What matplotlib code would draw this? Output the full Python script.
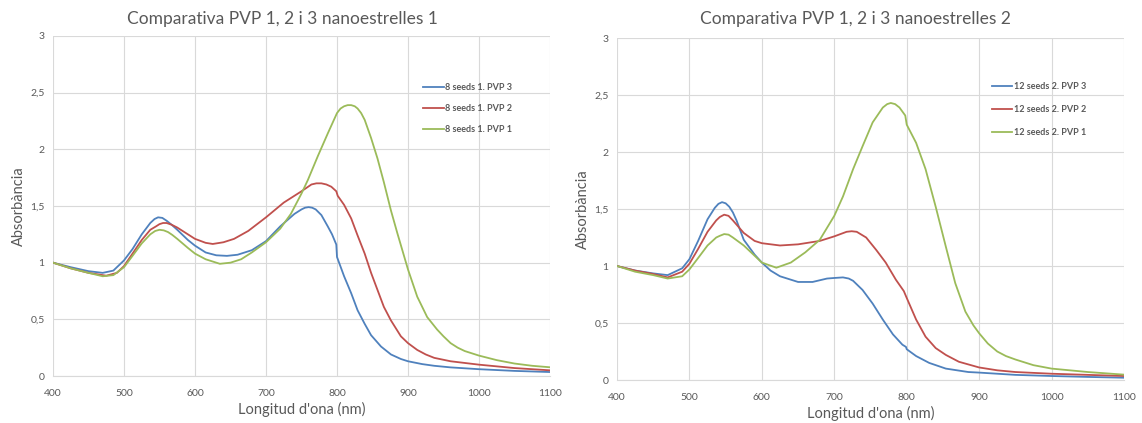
import matplotlib
matplotlib.use("Agg")
import matplotlib.pyplot as plt

plt.rcParams['font.family'] = ['Lato', 'DejaVu Sans']

# --- chart 1: 8 seeds ---
wl_1_pvp3 = [400, 425, 450, 470, 485, 500, 512, 525, 537, 543, 548, 554, 560, 567, 575, 590, 600, 615, 630, 645,
             660, 680, 700, 720, 740, 745, 750, 755, 760, 765, 770, 778, 787, 793, 799, 800, 810, 820, 829, 839,
             848, 862, 876, 890, 900, 920, 937, 960, 1000, 1050, 1100]
abs_1_pvp3 = [1.00, 0.96, 0.925, 0.91, 0.93, 1.02, 1.12, 1.25, 1.35, 1.385, 1.40, 1.395, 1.37, 1.335, 1.29, 1.20, 1.15, 1.09, 1.065, 1.06,
              1.07, 1.11, 1.19, 1.32, 1.43, 1.45, 1.47, 1.485, 1.49, 1.485, 1.47, 1.42, 1.32, 1.25, 1.16, 1.05, 0.88, 0.73, 0.58, 0.46,
              0.36, 0.26, 0.19, 0.15, 0.13, 0.105, 0.09, 0.076, 0.06, 0.045, 0.035]

wl_1_pvp2 = [400, 425, 450, 475, 490, 500, 512, 525, 537, 545, 550, 555, 560, 567, 575, 590, 600, 615, 625, 640,
             655, 675, 700, 725, 750, 764, 771, 778, 785, 792, 799, 801, 810, 820, 829, 839, 848, 857, 866, 876,
             890, 900, 913, 925, 937, 960, 980, 1000, 1050, 1100]
abs_1_pvp2 = [1.00, 0.95, 0.91, 0.885, 0.91, 0.97, 1.08, 1.20, 1.29, 1.32, 1.34, 1.35, 1.35, 1.335, 1.31, 1.25, 1.21, 1.175, 1.165, 1.18,
              1.21, 1.28, 1.40, 1.53, 1.63, 1.69, 1.70, 1.70, 1.69, 1.67, 1.63, 1.59, 1.51, 1.39, 1.24, 1.08, 0.91, 0.76, 0.61, 0.49,
              0.35, 0.29, 0.23, 0.19, 0.16, 0.13, 0.115, 0.10, 0.07, 0.05]

wl_1_pvp1 = [400, 425, 450, 470, 485, 500, 512, 525, 537, 544, 550, 556, 562, 568, 575, 590, 600, 615, 635, 650,
             665, 680, 700, 720, 735, 750, 759, 773, 787, 800, 805, 810, 815, 820, 825, 829, 834, 839, 848, 857,
             866, 876, 885, 900, 913, 927, 941, 950, 960, 970, 980, 1000, 1025, 1050, 1075, 1100]
abs_1_pvp1 = [1.00, 0.95, 0.91, 0.88, 0.89, 0.96, 1.06, 1.17, 1.25, 1.28, 1.29, 1.285, 1.27, 1.245, 1.21, 1.13, 1.08, 1.03, 0.99, 1.00,
              1.03, 1.09, 1.18, 1.30, 1.43, 1.61, 1.73, 1.94, 2.14, 2.32, 2.36, 2.38, 2.39, 2.39, 2.38, 2.36, 2.32, 2.26, 2.10, 1.92,
              1.71, 1.46, 1.26, 0.94, 0.70, 0.52, 0.41, 0.35, 0.29, 0.25, 0.22, 0.18, 0.14, 0.11, 0.09, 0.077]

# --- chart 2: 12 seeds ---
wl_2_pvp3 = [400, 425, 450, 470, 490, 500, 512, 525, 535, 540, 545, 550, 555, 560, 565, 575, 590, 600, 612, 625,
             650, 670, 690, 700, 712, 720, 726, 739, 753, 767, 781, 794, 799, 800, 813, 831, 854, 885, 900, 950,
             1000, 1050, 1100]
abs_2_pvp3 = [1.00, 0.96, 0.935, 0.92, 0.98, 1.06, 1.22, 1.41, 1.51, 1.545, 1.56, 1.55, 1.52, 1.47, 1.40, 1.23, 1.10, 1.03, 0.96, 0.91,
              0.86, 0.86, 0.89, 0.895, 0.90, 0.89, 0.87, 0.79, 0.67, 0.53, 0.40, 0.31, 0.29, 0.27, 0.21, 0.15, 0.10, 0.07, 0.065, 0.045,
              0.035, 0.027, 0.02]

wl_2_pvp2 = [400, 425, 450, 470, 490, 500, 512, 525, 537, 542, 548, 554, 560, 575, 590, 600, 625, 650, 680, 700,
             717, 724, 731, 744, 758, 771, 785, 796, 800, 813, 826, 840, 854, 872, 900, 925, 950, 1000, 1050, 1100]
abs_2_pvp2 = [1.00, 0.96, 0.93, 0.90, 0.95, 1.02, 1.15, 1.30, 1.40, 1.43, 1.45, 1.44, 1.40, 1.29, 1.22, 1.20, 1.18, 1.19, 1.22, 1.26,
              1.30, 1.305, 1.30, 1.25, 1.14, 1.03, 0.88, 0.78, 0.72, 0.53, 0.38, 0.28, 0.22, 0.16, 0.11, 0.085, 0.07, 0.055, 0.045, 0.035]

wl_2_pvp1 = [400, 425, 450, 470, 490, 500, 512, 525, 537, 542, 548, 554, 560, 575, 600, 620, 640, 660, 680, 700,
             712, 726, 739, 753, 767, 773, 778, 784, 790, 798, 800, 813, 826, 840, 854, 867, 881, 892, 900, 912,
             925, 937, 950, 975, 1000, 1050, 1100]
abs_2_pvp1 = [1.00, 0.95, 0.92, 0.89, 0.91, 0.97, 1.07, 1.18, 1.25, 1.265, 1.28, 1.275, 1.25, 1.18, 1.03, 0.985, 1.03, 1.12, 1.23, 1.44,
              1.61, 1.85, 2.05, 2.26, 2.39, 2.42, 2.43, 2.42, 2.39, 2.32, 2.24, 2.08, 1.85, 1.52, 1.17, 0.85, 0.60, 0.48, 0.41, 0.32,
              0.25, 0.21, 0.18, 0.13, 0.10, 0.07, 0.047]

x_ticks = [400, 500, 600, 700, 800, 900, 1000, 1100]
y_ticks = [0, 0.5, 1, 1.5, 2, 2.5, 3]
y_tick_labels = ["0", "0,5", "1", "1,5", "2", "2,5", "3"]

blue = "#4F81BD"
red = "#C0504D"
green = "#9BBB59"
grey_txt = "#595959"
grid_col = "#D9D9D9"

fig = plt.figure(figsize=(11.42, 4.23), dpi=100)
ax1 = fig.add_axes([53 / 1142, 1 - 376 / 423, 497 / 1142, 340 / 423])
ax2 = fig.add_axes([617 / 1142, 1 - 380 / 423, 507 / 1142, 342 / 423])


def style_axes(ax):
    ax.set_xlim(400, 1100)
    ax.set_ylim(0, 3)
    ax.set_xticks(x_ticks)
    ax.set_yticks(y_ticks)
    ax.set_yticklabels(y_tick_labels)
    ax.grid(True, color=grid_col, linewidth=0.8)
    ax.set_axisbelow(True)
    for s in ax.spines.values():
        s.set_visible(False)
    ax.spines['bottom'].set_visible(True)
    ax.spines['bottom'].set_color(grid_col)
    ax.tick_params(length=0, labelsize=7.5, labelcolor=grey_txt)
    ax.tick_params(axis='x', pad=9)
    ax.tick_params(axis='y', pad=6)
    ax.set_xlabel("Longitud d'ona (nm)", fontsize=10.5, color=grey_txt, labelpad=3)
    ax.set_ylabel("Absorbància", fontsize=10.5, color=grey_txt, labelpad=3)


ax1.plot(wl_1_pvp3, abs_1_pvp3, color=blue, lw=1.3, label="8 seeds 1. PVP 3")
ax1.plot(wl_1_pvp2, abs_1_pvp2, color=red, lw=1.3, label="8 seeds 1. PVP 2")
ax1.plot(wl_1_pvp1, abs_1_pvp1, color=green, lw=1.3, label="8 seeds 1. PVP 1")
style_axes(ax1)
leg1 = ax1.legend(loc="upper left", bbox_to_anchor=(0.735, 0.875), frameon=False, fontsize=6.5,
                  handlelength=2.3, handletextpad=0.15, labelspacing=1.35, borderpad=0)

ax2.plot(wl_2_pvp3, abs_2_pvp3, color=blue, lw=1.3, label="12 seeds 2. PVP 3")
ax2.plot(wl_2_pvp2, abs_2_pvp2, color=red, lw=1.3, label="12 seeds 2. PVP 2")
ax2.plot(wl_2_pvp1, abs_2_pvp1, color=green, lw=1.3, label="12 seeds 2. PVP 1")
style_axes(ax2)
leg2 = ax2.legend(loc="upper left", bbox_to_anchor=(0.73, 0.885), frameon=False, fontsize=6.5,
                  handlelength=2.3, handletextpad=0.15, labelspacing=1.55, borderpad=0)

for leg in (leg1, leg2):
    for t in leg.get_texts():
        t.set_color(grey_txt)
        t.set_fontweight("bold")

fig.text(282 / 1142, 1 - 19 / 423, "Comparativa PVP 1, 2 i 3 nanoestrelles 1", ha="center", va="center",
         fontsize=12.5, color=grey_txt)
fig.text(855 / 1142, 1 - 19 / 423, "Comparativa PVP 1, 2 i 3 nanoestrelles 2", ha="center", va="center",
         fontsize=12.5, color=grey_txt)

fig.savefig("out.png", dpi=100)
